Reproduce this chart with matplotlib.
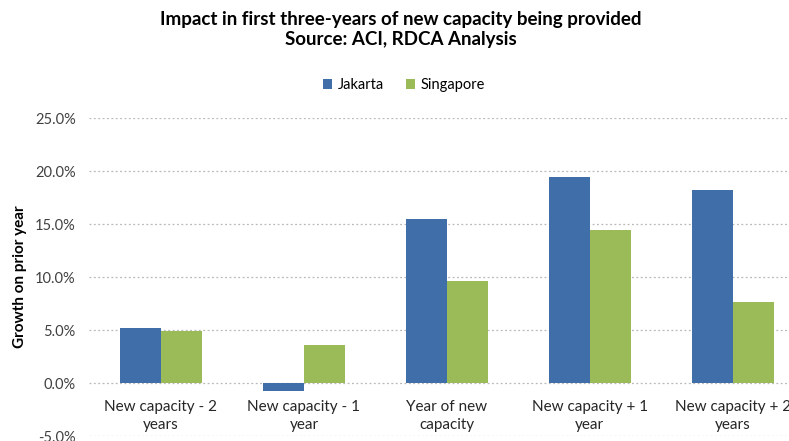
import matplotlib
matplotlib.use("Agg")
import matplotlib.pyplot as plt
import numpy as np

plt.rcParams['font.family'] = ['Lato', 'DejaVu Sans']

# data (percent growth on prior year)
categories = ["New capacity - 2\nyears", "New capacity - 1\nyear", "Year of new\ncapacity",
              "New capacity + 1\nyear", "New capacity + 2\nyears"]
jakarta = [5.2, -0.8, 15.5, 19.4, 18.2]
singapore = [4.9, 3.6, 9.6, 14.4, 7.6]
yticks = [-5, 0, 5, 10, 15, 20, 25]

blue = '#3F6EA8'
green = '#9BBB59'

fig = plt.figure(figsize=(7.89, 4.41), dpi=100)
# chart is cropped on the right, so the axes run past the figure edge
ax = fig.add_axes([0.1134, 0.0113, 0.906, 0.7211])

x = np.arange(len(categories))
w = 0.287
ax.bar(x - w/2, jakarta, w, color=blue, label='Jakarta', zorder=3)
ax.bar(x + w/2, singapore, w, color=green, label='Singapore', zorder=3)

ax.set_xlim(-0.5, len(categories) - 0.5)
ax.set_ylim(-5, 25)
ax.set_yticks(yticks)
ax.set_yticklabels(['%.1f%%' % v for v in yticks], fontsize=10.5, color='#404040')
ax.tick_params(axis='y', length=0, pad=10)
ax.set_xticks([])
ax.yaxis.grid(True, linestyle=(0, (1.5, 2)), color='#b8b8b8', linewidth=0.9, zorder=0)
for s in ax.spines.values():
    s.set_visible(False)

for i, lab in enumerate(categories):
    ax.text(x[i], -1.6, lab, ha='center', va='top', fontsize=11, color='#262626',
            linespacing=1.35)

ax.set_ylabel('Growth on prior year', fontsize=11, fontweight='bold', labelpad=6)

fig.text(0.508, 0.975, 'Impact in first three-years of new capacity being provided\nSource: ACI, RDCA Analysis',
         ha='center', va='top', fontsize=13.5, fontweight='bold', linespacing=1.2)

fig.legend(loc='center', bbox_to_anchor=(0.512, 0.807), ncol=2, frameon=False,
           fontsize=10.5, handlelength=0.6, handleheight=0.6, columnspacing=1.5, handletextpad=0.4)

fig.savefig('out.png', dpi=100)
